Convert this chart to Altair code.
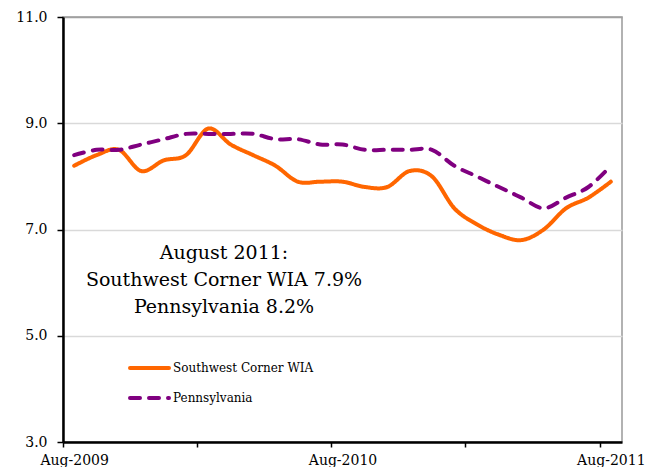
import altair as alt
import pandas as pd

# ---- data ----
month_index = list(range(25))  # Aug-2009 .. Aug-2011
swc_rate = [8.2, 8.4, 8.5, 8.1, 8.3, 8.4, 8.9, 8.6, 8.4, 8.2, 7.9, 7.9, 7.9,
            7.8, 7.8, 8.1, 8.0, 7.4, 7.1, 6.9, 6.8, 7.0, 7.4, 7.6, 7.9]
pa_rate = [8.4, 8.5, 8.5, 8.6, 8.7, 8.8, 8.8, 8.8, 8.8, 8.7, 8.7, 8.6, 8.6,
           8.5, 8.5, 8.5, 8.5, 8.2, 8.0, 7.8, 7.6, 7.4, 7.6, 7.8, 8.2]
series_names = ["Southwest Corner WIA", "Pennsylvania"]
series_colors = ["#FF6600", "#800080"]
tick_bounds = [-0.5, 5.5, 11.5, 17.5, 23.5]
label_positions = [0, 12, 24]
tick_labels = ["Aug-2009", "Aug-2010", "Aug-2011"]
y_ticks = [3, 5, 7, 9, 11]
annotation_lines = ["August 2011:", "Southwest Corner WIA 7.9%", "Pennsylvania 8.2%"]

df = pd.DataFrame({
    "idx": month_index + month_index,
    "rate": swc_rate + pa_rate,
    "series": [series_names[0]] * len(month_index) + [series_names[1]] * len(month_index),
})

FONT = "DejaVu Serif"

label_expr = " : ".join(
    f"datum.value == {p} ? '{t}'" for p, t in zip(label_positions, tick_labels)
) + " : ''"

x_axis = alt.Axis(
    values=sorted(tick_bounds + label_positions),
    labelExpr=label_expr,
    tickOpacity={"condition": {"test": "datum.value % 1 == 0", "value": 0}, "value": 1},
    tickSize=5, tickColor="black", tickWidth=1.5,
    domainColor="black", domainWidth=2.5,
    grid=False, labelFlush=False, labelOverlap=False,
    labelFont=FONT, labelFontSize=14, labelColor="black", labelPadding=6,
    title=None,
)
y_axis = alt.Axis(
    values=y_ticks, format=".1f",
    grid=True,
    gridColor={"condition": {"test": "datum.value == 11", "value": "#a0a0a0"}, "value": "#d9d9d9"},
    gridWidth=1.5,
    domainColor="black", domainWidth=2.5,
    tickColor="black", tickSize=6, tickWidth=1.5,
    labelFont=FONT, labelFontSize=14, labelColor="black", labelPadding=10,
    title=None,
)

x_enc = alt.X("idx:Q", scale=alt.Scale(domain=[-0.5, 24.5], nice=False, zero=False), axis=x_axis)
y_enc = alt.Y("rate:Q", scale=alt.Scale(domain=[3, 11], nice=False, zero=False), axis=y_axis)

lines = alt.Chart(df).mark_line(strokeWidth=4, interpolate="cardinal", strokeCap="round").encode(
    x=x_enc,
    y=y_enc,
    color=alt.Color("series:N", scale=alt.Scale(domain=series_names, range=series_colors), legend=None),
    strokeDash=alt.StrokeDash("series:N", scale=alt.Scale(domain=series_names, range=[[1, 0], [10, 9]]), legend=None),
)

layers = [lines]

# annotation text
ann_y = [242, 269, 296]
for line, yy in zip(annotation_lines, ann_y):
    layers.append(
        alt.Chart(pd.DataFrame({"t": [line]})).mark_text(
            font=FONT, fontSize=19, align="center", baseline="alphabetic", color="black"
        ).encode(text="t:N", x=alt.value(161), y=alt.value(yy))
    )

# legend (drawn inside the plot)
leg_y = [351, 381]
dashes = [[1, 0], [10, 9]]
for name, col, dash, yy in zip(series_names, series_colors, dashes, leg_y):
    layers.append(
        alt.Chart(pd.DataFrame({"s": [name]})).mark_rule(
            color=col, strokeWidth=4, strokeDash=dash, strokeCap="round"
        ).encode(x=alt.value(67), x2=alt.value(106), y=alt.value(yy))
    )
    layers.append(
        alt.Chart(pd.DataFrame({"s": [name]})).mark_text(
            font=FONT, fontSize=12, align="left", baseline="middle", color="black"
        ).encode(text="s:N", x=alt.value(110), y=alt.value(yy))
    )

chart = alt.layer(*layers).properties(
    width=559,
    height=425,
    padding={"left": 55, "top": 9, "right": 25, "bottom": 25},
    autosize="none",
    background="white",
).configure_view(stroke="#999999", strokeWidth=1.5)

chart.save("out.html", embed_options={"renderer": "svg", "actions": False})
